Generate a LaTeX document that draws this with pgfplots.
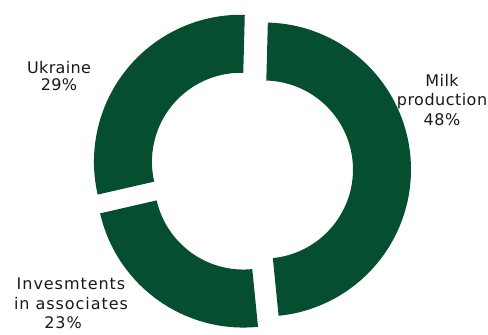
\documentclass[border=0pt]{standalone}
\usepackage{pgfplots}
\pgfplotsset{compat=1.18}
\usepackage{pgfplotstable}
\usepackage{fontspec}
\setmainfont{DejaVu Sans}
\definecolor{ringgreen}{HTML}{054F30}

% shares of the donut (percent), in clockwise order from the top
\pgfplotstableread{
share
48
23
29
}\sharetable

\newcommand{\ringslice}[2]{% #1 start angle, #2 percent
  \pgfmathsetmacro{\sa}{#1}%
  \pgfmathsetmacro{\sb}{#1-3.6*#2}%
  \pgfmathsetmacro{\sm}{(\sa+\sb)/2}%
  \pgfmathsetmacro{\ox}{251+13*cos(\sm)}%
  \pgfmathsetmacro{\oy}{159+13*sin(\sm)}%
  \pgfmathsetmacro{\pax}{\ox+147*cos(\sa)}%
  \pgfmathsetmacro{\pay}{\oy+147*sin(\sa)}%
  \pgfmathsetmacro{\pbx}{\ox+89*cos(\sb)}%
  \pgfmathsetmacro{\pby}{\oy+89*sin(\sb)}%
  \edef\doslice{\noexpand\fill[ringgreen] (axis cs:\pax,\pay) arc[start angle=\sa, end angle=\sb, radius=147bp] -- (axis cs:\pbx,\pby) arc[start angle=\sb, end angle=\sa, radius=89bp] -- cycle;}%
  \doslice
}

\begin{document}
\begin{tikzpicture}
\begin{axis}[
  scale only axis, width=488bp, height=329bp,
  xmin=0, xmax=488, ymin=0, ymax=329,
  hide axis, clip=false,
]
\path (axis cs:0,0) rectangle (axis cs:488,329);
\pgfplotstablegetelem{0}{share}\of\sharetable \let\sA\pgfplotsretval
\pgfplotstablegetelem{1}{share}\of\sharetable \let\sB\pgfplotsretval
\pgfplotstablegetelem{2}{share}\of\sharetable \let\sC\pgfplotsretval
\pgfmathsetmacro{\angA}{88.5}
\pgfmathsetmacro{\angB}{88.5-3.6*\sA}
\pgfmathsetmacro{\angC}{88.5-3.6*(\sA+\sB)}
\ringslice{\angA}{\sA}
\ringslice{\angB}{\sB}
\ringslice{\angC}{\sC}
\begin{scope}[every node/.style={font=\fontsize{16bp}{19bp}\selectfont, align=center, inner sep=0pt, anchor=north, text=black!90}]
\node[font=\fontsize{16bp}{19.5bp}\selectfont\addfontfeature{LetterSpace=3}] at (axis cs:442,255) {Milk\\production\\48\%};
\node[font=\fontsize{16bp}{17bp}\selectfont\addfontfeature{LetterSpace=2}] at (axis cs:59,268) {Ukraine\\29\%};
\node[font=\fontsize{16bp}{19.5bp}\selectfont\addfontfeature{LetterSpace=6}] at (axis cs:71,51) {Invesmtents\\in associates\\23\%\hspace*{16bp}};
\end{scope}
\end{axis}
\end{tikzpicture}
\end{document}
